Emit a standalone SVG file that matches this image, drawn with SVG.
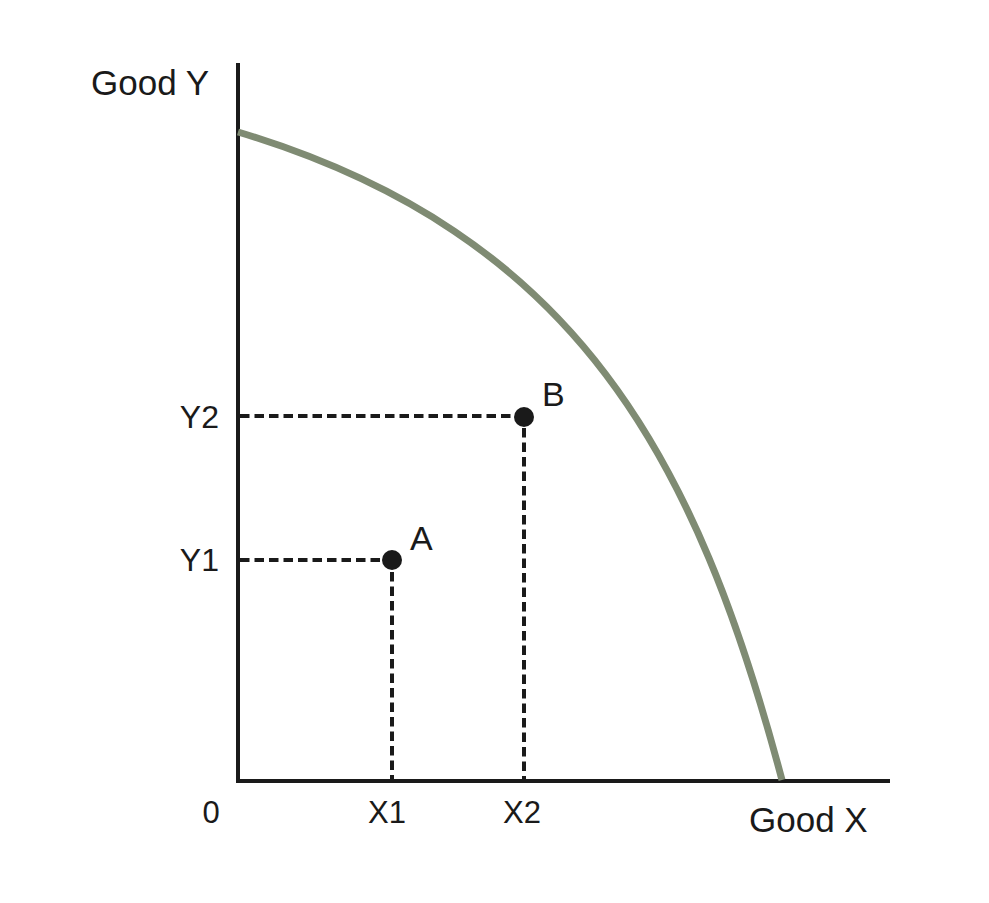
<svg xmlns="http://www.w3.org/2000/svg" width="989" height="903" viewBox="0 0 989 903">
<style>
.axis{stroke:#1a1a1a;stroke-width:4;fill:none}
.dash{stroke:#1a1a1a;stroke-width:4;stroke-dasharray:9.5 5;fill:none}
.curve{stroke:#7f8b73;stroke-width:7;fill:none}
.lbl{font-family:"Liberation Sans",Arial,sans-serif;fill:#1a1a1a}
.pt{fill:#1a1a1a}
</style>
<rect width="989" height="903" fill="#ffffff"/>
<g id="axes">
<line class="axis" x1="238" y1="63" x2="238" y2="783"/>
<line class="axis" x1="236" y1="781" x2="890" y2="781"/>
</g>
<g id="connectors">
<line class="dash" x1="240" y1="416" x2="516" y2="416"/>
<line class="dash" x1="240" y1="560" x2="384" y2="560"/>
<line class="dash" x1="524" y1="428" x2="524" y2="779"/>
<line class="dash" x1="392" y1="572" x2="392" y2="779"/>
</g>
<g id="ppf">
<path class="curve" d="M238,132 C578,234 697,460 782,780"/>
</g>
<g id="pointA">
<circle class="pt" cx="392" cy="560" r="10"/>
<text class="lbl" x="410" y="550" font-size="34">A</text>
</g>
<g id="pointB">
<circle class="pt" cx="524" cy="417" r="10"/>
<text class="lbl" x="542" y="406" font-size="34">B</text>
</g>
<g id="labels">
<text class="lbl" x="91" y="95" font-size="35">Good Y</text>
<text class="lbl" x="219" y="428" font-size="32" text-anchor="end">Y2</text>
<text class="lbl" x="219" y="571" font-size="32" text-anchor="end">Y1</text>
<text class="lbl" x="211" y="823" font-size="31" text-anchor="middle">0</text>
<text class="lbl" x="387" y="823" font-size="31" text-anchor="middle">X1</text>
<text class="lbl" x="522" y="823" font-size="31" text-anchor="middle">X2</text>
<text class="lbl" x="749" y="832" font-size="35">Good X</text>
</g>
</svg>
